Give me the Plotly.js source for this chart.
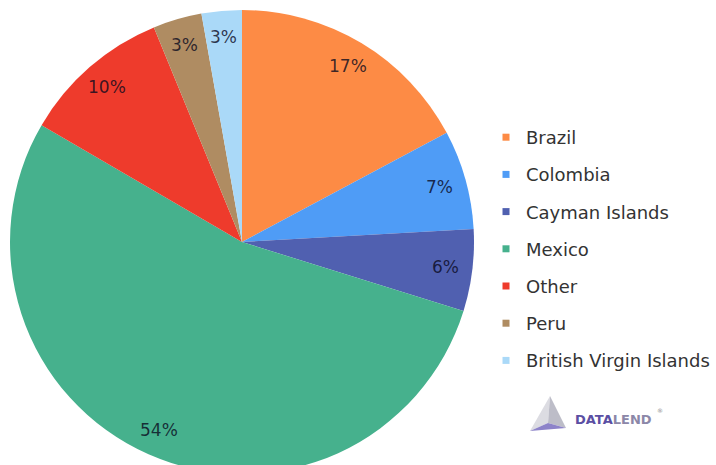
<!DOCTYPE html>
<html><head><meta charset="utf-8">
<script src="https://cdn.plot.ly/plotly-3.0.1.min.js"></script>
<style>html,body{margin:0;padding:0;overflow:hidden;background:#fff}#chart{width:716px;height:490px}</style>
</head><body><div id="chart"></div>
<script>
// ---- data ----
const labels = ['Brazil','Colombia','Cayman Islands','Mexico','Other','Peru','British Virgin Islands'];
const values = [17.2, 6.9, 5.7, 53.6, 10.4, 3.4, 2.8];
const colors = ['#FD8B45','#4F9CF6','#5060B0','#46B18D','#EE3B2C','#AF8C62','#AAD9F8'];

// ---- geometry ----
const W = 716, H = 490;
const pieLeft = 10, pieRight = 474, pieTop = 10;
const R = (pieRight - pieLeft) / 2, CX = (pieLeft + pieRight) / 2, CY = pieTop + R;
const px = x => x / W, py = y => 1 - y / H;

const total = values.reduce((a, b) => a + b, 0);
const annotations = [];
let cum = 0;
const f = 0.885;
values.forEach((v, i) => {
  const th = (cum + v / 2) / total * 2 * Math.PI;
  cum += v;
  annotations.push({
    xref: 'paper', yref: 'paper',
    x: px(CX + f * R * Math.sin(th)), y: py(CY - f * R * Math.cos(th)),
    text: Math.round(v / total * 100) + '%', showarrow: false,
    xanchor: 'center', yanchor: 'middle',
    font: {family: 'DejaVu Sans', size: 17, color: 'rgba(10,10,30,0.8)'}
  });
});

// logo text
annotations.push({
  xref: 'paper', yref: 'paper', x: px(573), y: py(419), xanchor: 'left', yanchor: 'middle',
  showarrow: false,
  text: '<b><span style="color:#5B4FA3">DATA</span><span style="color:#8C87A8">LEND</span></b>',
  font: {family: 'DejaVu Sans', size: 13}
});
annotations.push({
  xref: 'paper', yref: 'paper', x: px(655), y: py(410), xanchor: 'left', yanchor: 'middle',
  showarrow: false, text: '®', font: {family: 'DejaVu Sans', size: 6, color: '#888'}
});

const P = pts => 'M' + pts.map(p => px(p[0]) + ',' + py(p[1])).join(' L') + ' Z';
const apex = [550, 396], bl = [530, 431], mid = [548, 423], br = [566, 428];
const shapes = [
  {type: 'path', xref: 'paper', yref: 'paper', path: P([apex, bl, mid]), fillcolor: '#DCDCE2', line: {width: 0}},
  {type: 'path', xref: 'paper', yref: 'paper', path: P([apex, mid, br]), fillcolor: '#BDBDC8', line: {width: 0}},
  {type: 'path', xref: 'paper', yref: 'paper', path: P([bl, mid, br]), fillcolor: '#8D83C9', line: {width: 0}}
];

const traces = [{
  type: 'pie', labels: labels, values: values, sort: false, direction: 'clockwise', rotation: 0,
  marker: {colors: colors, line: {width: 0}}, textinfo: 'none', hoverinfo: 'label+percent',
  showlegend: false,
  domain: {x: [px(pieLeft), px(pieRight)], y: [py(pieTop + 2 * R), py(pieTop)]}
}];
labels.forEach((l, i) => traces.push({
  type: 'scatter', mode: 'markers', x: [null], y: [null], name: l, legendgroup: l,
  marker: {symbol: 'square', size: 7, color: colors[i]}, hoverinfo: 'skip'
}));

const layout = {
  width: W, height: H, margin: {l: 0, r: 0, t: 0, b: 0},
  paper_bgcolor: '#fff', plot_bgcolor: '#fff',
  xaxis: {visible: false}, yaxis: {visible: false},
  showlegend: true,
  legend: {x: px(486), y: py(119), xanchor: 'left', yanchor: 'top', traceorder: 'grouped',
           tracegroupgap: 10.8, itemwidth: 30,
           font: {family: 'DejaVu Sans', size: 18, color: '#333'}, bgcolor: 'rgba(0,0,0,0)'},
  annotations: annotations, shapes: shapes
};
Plotly.newPlot('chart', traces, layout, {displayModeBar: false, staticPlot: true});
</script></body></html>
